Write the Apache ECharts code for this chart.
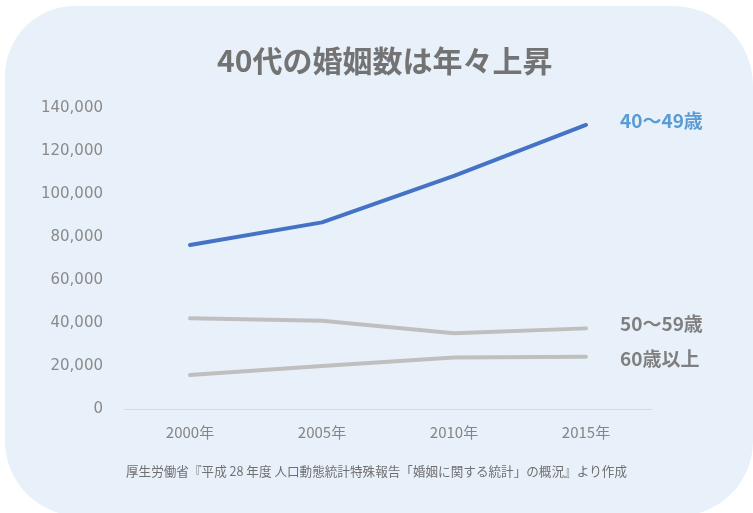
<!DOCTYPE html>
<html>
<head>
<meta charset="utf-8">
<script src="https://cdn.jsdelivr.net/npm/echarts@6/dist/echarts.min.js"></script>
<style>
html,body{margin:0;padding:0;background:#fff;}
#c{width:753px;height:513px;}
</style>
</head>
<body>
<div id="c"></div>
<script>
const categories = ['2000年', '2005年', '2010年', '2015年'];
const age40s = [76300, 86800, 108400, 132100];
const age50s = [42200, 41100, 35200, 37500];
const age60plus = [15800, 20000, 24000, 24300];
const seriesNames = ['40〜49歳', '50〜59歳', '60歳以上'];
const yTicks = { min: 0, max: 140000, interval: 20000 };

const chart = echarts.init(document.getElementById('c'));
const jp = '"Noto Sans CJK JP", "Noto Sans", sans-serif';
function lineSeries(name, data, color, labelColor, offset) {
  return {
    name: name, type: 'line', data: data, symbol: 'none', z: 3,
    lineStyle: { color: color, width: 4, cap: 'round' },
    endLabel: {
      show: true, formatter: name, color: labelColor, fontFamily: jp,
      fontSize: 19, fontWeight: 'bold', distance: 34, offset: offset
    }
  };
}
chart.setOption({
  backgroundColor: '#ffffff',
  animation: false,
  graphic: [{
    type: 'rect', z: -10, silent: true,
    shape: { x: 5, y: 6, width: 748, height: 510, r: [70, 80, 75, 75] },
    style: { fill: '#e8f1fa' }
  }, {
    type: 'text', left: 'center', top: 465,
    style: {
      text: '厚生労働省『平成 28 年度 人口動態統計特殊報告「婚姻に関する統計」の概況』より作成',
      fill: '#6f6f6f', font: '12.6px ' + jp
    }
  }],
  title: {
    text: '40代の婚姻数は年々上昇', left: 212, top: 41,
    textStyle: { fontFamily: jp, fontSize: 30, fontWeight: 'bold', color: '#737373' }
  },
  grid: { left: 124, right: 101, top: 108, bottom: 104 },
  xAxis: {
    type: 'category', data: categories, boundaryGap: true,
    axisLine: { lineStyle: { color: '#d9d9d9', width: 1 } },
    axisTick: { show: false },
    axisLabel: { color: '#858585', fontFamily: jp, fontSize: 15, margin: 16 }
  },
  yAxis: {
    type: 'value', min: yTicks.min, max: yTicks.max, interval: yTicks.interval,
    axisLine: { show: false }, axisTick: { show: false },
    splitLine: { show: false },
    axisLabel: {
      color: '#8a8a8a', fontFamily: 'DejaVu Sans', fontSize: 15, margin: 21,
      formatter: v => v.toLocaleString('en-US')
    }
  },
  series: [
    lineSeries(seriesNames[0], age40s, '#4472c4', '#5b9bd5', [0, -4]),
    lineSeries(seriesNames[1], age50s, '#bfbfbf', '#7f7f7f', [0, -5]),
    lineSeries(seriesNames[2], age60plus, '#bfbfbf', '#7f7f7f', [0, 2])
  ]
});
</script>
</body>
</html>
